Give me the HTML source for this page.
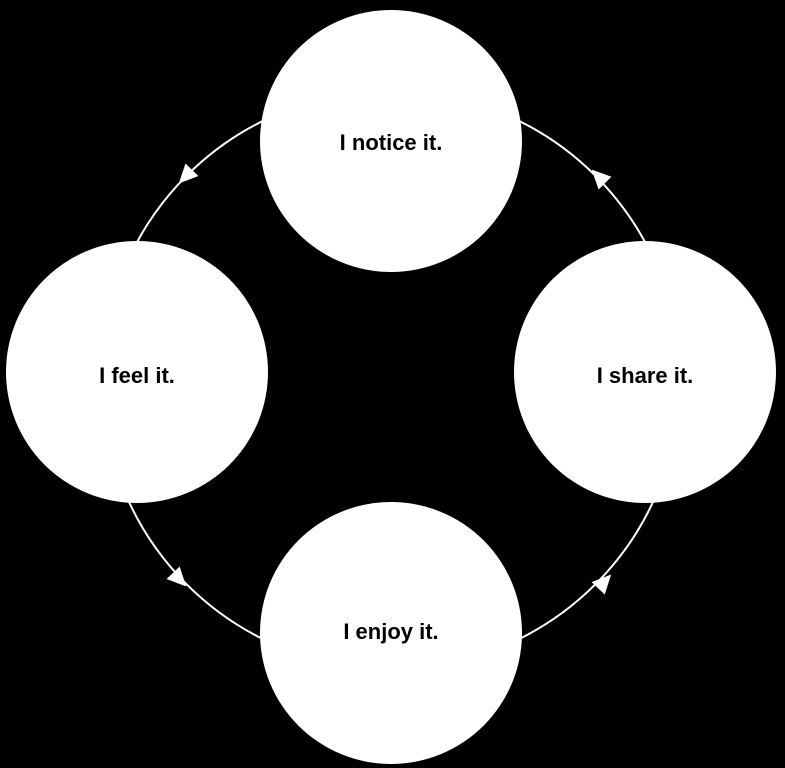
<!DOCTYPE html>
<html><head><style>
html,body{margin:0;padding:0;background:#000;}
svg{display:block;}
text{font-family:"Liberation Sans",sans-serif;font-weight:bold;font-size:22px;fill:#000;}
</style></head><body>
<svg width="785" height="768" viewBox="0 0 785 768">
<rect width="785" height="768" fill="#000"/>
<circle cx="391" cy="380" r="289" fill="none" stroke="#fff" stroke-width="2"/>
<g fill="#fff">
<polygon points="9,0 -10,-9 -10,9" transform="translate(185,177) rotate(134)"/>
<polygon points="9,0 -10,-9 -10,9" transform="translate(598,176) rotate(225.3)"/>
<polygon points="9,0 -10,-9 -10,9" transform="translate(180,580) rotate(46.5)"/>
<polygon points="9,0 -10,-9 -10,9" transform="translate(605,581) rotate(-46.8)"/>
<circle cx="391" cy="141" r="131"/>
<circle cx="137" cy="372" r="131"/>
<circle cx="645" cy="372" r="131"/>
<circle cx="391" cy="633" r="131"/>
</g>
<text x="391" y="150" text-anchor="middle">I notice it.</text>
<text x="137" y="383" text-anchor="middle">I feel it.</text>
<text x="645" y="383" text-anchor="middle">I share it.</text>
<text x="391" y="639" text-anchor="middle">I enjoy it.</text>
</svg>
</body></html>
